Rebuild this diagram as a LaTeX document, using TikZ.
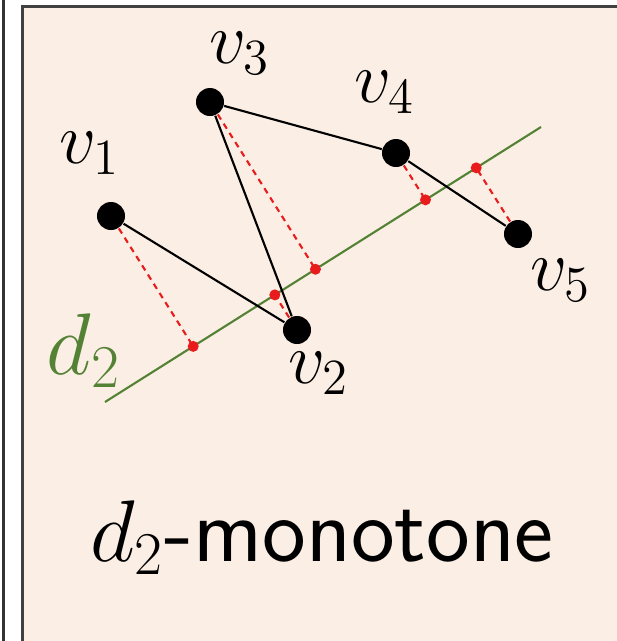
\documentclass[tikz,border=0pt]{standalone}
\usetikzlibrary{calc}
\definecolor{panelbg}{RGB}{251,238,228}
\definecolor{dirgreen}{RGB}{84,130,53}
\definecolor{projred}{RGB}{232,28,28}

\begin{document}
\begin{tikzpicture}[x=0.01cm,y=-0.01cm,
  vertex/.style={circle,fill=black,inner sep=0pt,minimum size=0.28cm},
  proj/.style={circle,fill=projred,inner sep=0pt,minimum size=0.11cm},
  lbl/.style={font=\fontsize{20.5}{24}\selectfont}]
  \useasboundingbox (0,0) rectangle (617,641);
  \draw[black!80,line width=0.6pt] (3.5,-5) -- (3.5,650);
  \draw[fill=panelbg,draw=black!75,line width=0.6pt] (22.5,6.5) rectangle (650,660);
  \coordinate (d0) at (105,402);
  \coordinate (d1) at (541,127);
  \draw[dirgreen,line width=0.6pt] (d0) -- (d1);
  \node[vertex] (v1) at (111,216) {};
  \node[vertex] (v2) at (297,330) {};
  \node[vertex] (v3) at (210,102) {};
  \node[vertex] (v4) at (396,153) {};
  \node[vertex] (v5) at (518,234) {};
  \draw[line width=0.6pt] (v1) -- (v2) -- (v3) -- (v4) -- (v5);
  \foreach \i in {1,...,5} {
    \coordinate (p\i) at ($(d0)!(v\i)!(d1)$);
    \draw[projred,dashed,dash pattern=on 1.7pt off 1.4pt,line width=0.6pt] (v\i) -- (p\i);
    \node[proj] (q\i) at (p\i) {};
  }
  \node[lbl] (l1) at (90,153) {$v_1$};
  \node[lbl] (l2) at (319,373) {$v_2$};
  \node[lbl] (l3) at (240,53) {$v_3$};
  \node[lbl] (l4) at (385,92) {$v_4$};
  \node[lbl] (l5) at (561,280) {$v_5$};
  \node[lbl,dirgreen,font=\fontsize{24}{28}\selectfont] (ld) at (84,351) {$d_2$};
  \node[font=\fontsize{26.4}{31}\selectfont] (title) at (322,538) {$d_2$\textsf{-monotone}};
\end{tikzpicture}
\end{document}
